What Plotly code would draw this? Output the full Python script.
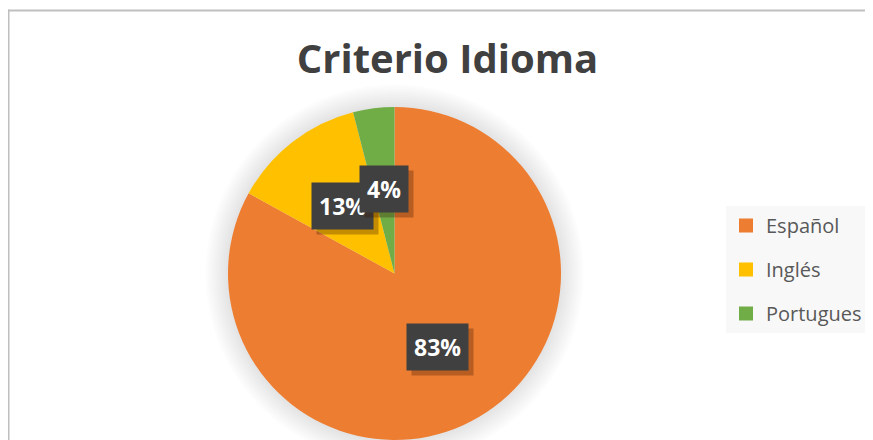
import math
import plotly.graph_objects as go

# ---- data ----
categories = ["Español", "Inglés", "Portugues"]
values = [83, 13, 4]
colors = ["#ED7D31", "#FFC000", "#70AD47"]
title_text = "Criterio Idioma"

# ---- layout constants (target pixel coordinates of the 873x440 view) ----
OX, OY = 8, 8              # page body margin offset
W, H = 873 - OX, 440 - OY  # figure size
CX, CY, R = 394.5, 273.5, 166.5  # pie centre / radius (view pixels)
LABEL_FRAC = 0.51


def px2paper_x(x):
    return (x - OX) / W


def px2paper_y(y):
    return 1 - (y - OY) / H


dom_x = [px2paper_x(CX - R), px2paper_x(CX + R)]
dom_y = [max(0.0, px2paper_y(CY + R)), px2paper_y(CY - R)]

fig = go.Figure()

fig.add_trace(go.Pie(
    labels=categories, values=values, sort=False, direction="clockwise",
    rotation=0, marker=dict(colors=colors, line=dict(width=0)),
    textinfo="none", showlegend=False, domain=dict(x=dom_x, y=dom_y),
    hoverinfo="label+percent",
))

# legend entries
for i, (c, col) in enumerate(zip(categories, colors)):
    fig.add_trace(go.Scatter(
        x=[None], y=[None], mode="markers", name=c, legendgroup=str(i),
        marker=dict(symbol="square", size=14, color=col),
    ))

# soft halo around the pie
shapes = []
for k in range(9, 0, -1):
    rr = R + 2.5 * k
    shapes.append(dict(
        type="circle", xref="paper", yref="paper", layer="below",
        x0=px2paper_x(CX - rr), x1=px2paper_x(CX + rr),
        y0=px2paper_y(CY + rr), y1=px2paper_y(CY - rr),
        fillcolor="rgba(0,0,0,0.013)", line=dict(width=0),
    ))
# chart-area border (only left and top edges are visible)
border = dict(color="#BFBFBF", width=2)
shapes.append(dict(type="line", xref="paper", yref="paper", layer="below",
                   x0=px2paper_x(8.5), x1=px2paper_x(8.5),
                   y0=0, y1=px2paper_y(9.5), line=border))
shapes.append(dict(type="line", xref="paper", yref="paper", layer="below",
                   x0=px2paper_x(7.5), x1=1,
                   y0=px2paper_y(10.5), y1=px2paper_y(10.5), line=border))

# data labels
total = sum(values)
annotations = []
cum = 0.0
for v in values:
    frac = v / total
    mid = (cum + frac / 2) * 2 * math.pi
    cum += frac
    px = CX + LABEL_FRAC * R * math.sin(mid)
    py = CY - LABEL_FRAC * R * math.cos(mid)
    txt = f"<b>{round(frac * 100)}%</b>"
    ax, ay = px2paper_x(px), px2paper_y(py)
    common = dict(x=ax, y=ay, xref="paper", yref="paper", text=txt,
                  showarrow=False, xanchor="center", yanchor="middle",
                  borderpad=7)
    annotations.append(dict(
        **common,
        font=dict(family="Open Sans", size=23, color="rgba(0,0,0,0)"),
        bgcolor="rgba(60,20,0,0.30)", xshift=5, yshift=-5,
    ))
    annotations.append(dict(
        **common,
        font=dict(family="Open Sans", size=23, color="#FFFFFF"),
        bgcolor="#404040",
    ))

fig.update_layout(
    width=W, height=H, margin=dict(l=0, r=0, t=0, b=0),
    paper_bgcolor="#FFFFFF", plot_bgcolor="#FFFFFF",
    title=dict(text=f"<b>{title_text}</b>", x=px2paper_x(447.5),
               xanchor="center", y=px2paper_y(59), yanchor="middle",
               font=dict(family="Open Sans", size=40, color="#404040")),
    xaxis=dict(visible=False), yaxis=dict(visible=False),
    legend=dict(x=px2paper_x(726), xanchor="left", y=px2paper_y(206),
                yanchor="top", bgcolor="#F8F8F8", borderwidth=0,
                tracegroupgap=15,
                font=dict(family="Open Sans", size=20, color="#595959")),
    shapes=shapes, annotations=annotations,
)

fig.write_html("out.html")
